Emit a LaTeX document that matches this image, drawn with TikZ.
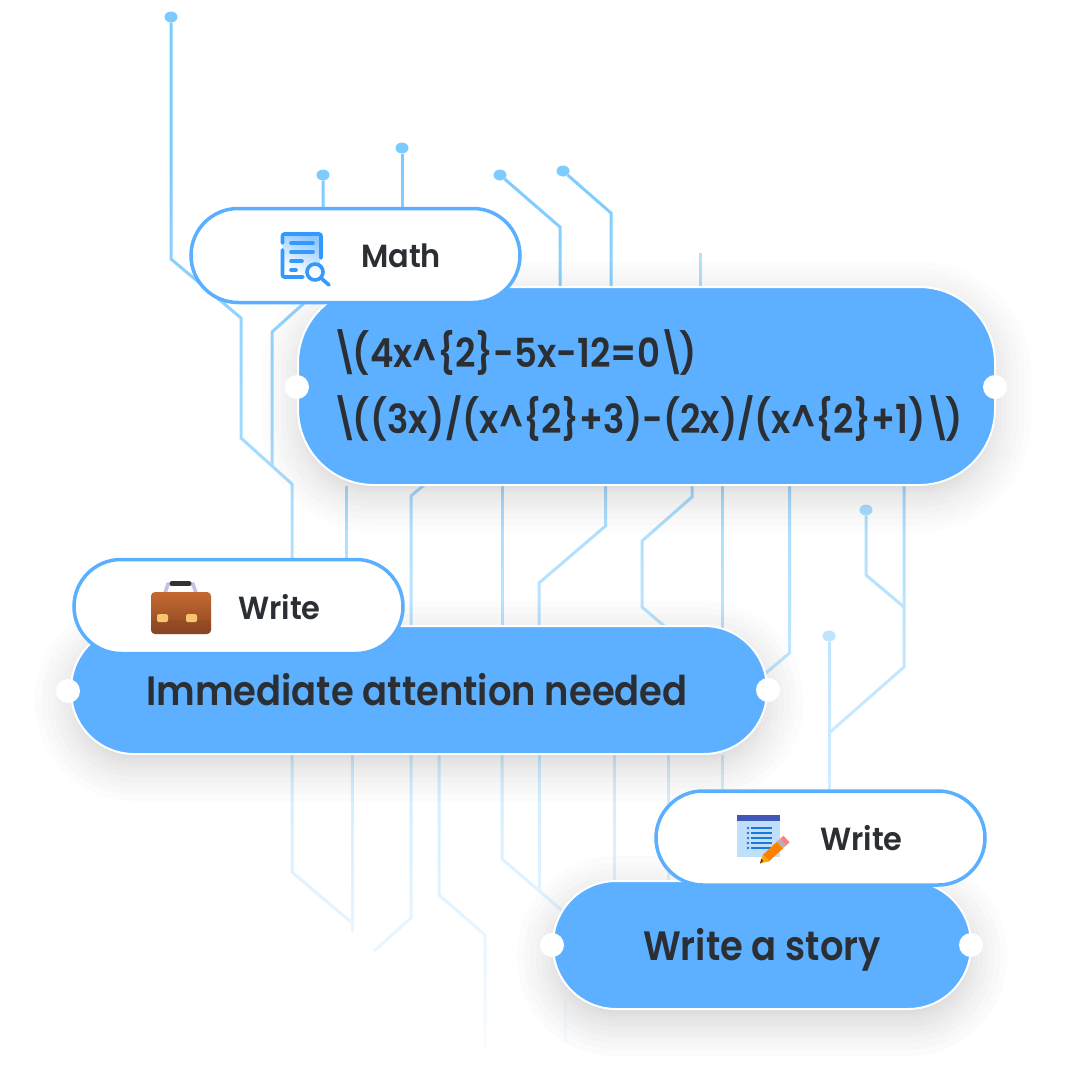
\documentclass[tikz,border=0pt]{standalone}
\usepackage{fontspec}
\setmainfont{Poppins}[UprightFont=* SemiBold]
\newfontfamily\bodyface{Poppins}[UprightFont=* SemiBold,FakeStretch=.9]
\newfontfamily\mathface{Poppins}[UprightFont=* SemiBold,FakeStretch=.89]
\newfontfamily\tagface{Poppins}[UprightFont=* SemiBold,FakeStretch=.95]
\usetikzlibrary{positioning,shapes.geometric}
\pgfdeclarelayer{tracelayer}
\pgfdeclarelayer{shadelayer}
\pgfsetlayers{tracelayer,shadelayer,main}
\definecolor{traceblue}{HTML}{7CCBFF}
\definecolor{pillblue}{HTML}{5CB0FF}
\definecolor{pilledge}{HTML}{5AB0FF}
\definecolor{inktext}{HTML}{2B2F33}
\definecolor{iconblue}{HTML}{3399FF}
\definecolor{casetop}{HTML}{C46A30}
\definecolor{casebot}{HTML}{8A4524}
\definecolor{clasp}{HTML}{F9C46F}
\definecolor{padblue}{HTML}{BFDFFA}
\definecolor{padhead}{HTML}{4257B8}
\definecolor{padline}{HTML}{1E78D8}
\newcommand{\bs}{\kern-.05em\textbackslash\kern-.13em}
\newcommand{\up}{\textasciicircum}
% soft shadow under a blue pill: x1,y1,x2,y2,radius
\newcommand{\softshadow}[5]{\foreach \i [evaluate=\i as \sp using {\i*\i*.28-11}] in {1,2,...,13}
  \fill[black,opacity=.01,rounded corners=#5+\sp] (#1-\sp,#2-\sp+11) rectangle (#3+\sp,#4+\sp+11);}

\begin{document}
\begin{tikzpicture}[x=1pt,y=-1pt,
trace/.style={draw=traceblue,line width=3pt},
tipdot/.style={ellipse,fill=traceblue,minimum width=13pt,minimum height=11pt,inner sep=0pt},
bluepill/.style={draw=white,line width=2pt,fill=pillblue,inner sep=0pt},
whitepill/.style={draw=pilledge,line width=3.5pt,fill=white,inner sep=0pt,minimum width=329pt,minimum height=94pt,rounded corners=47pt},
grip/.style={circle,fill=white,minimum size=24pt,inner sep=0pt},
tag/.style={text=inktext,inner sep=0pt,font=\tagface\fontsize{32}{34}\selectfont},
body/.style={text=inktext,inner sep=0pt,font=\bodyface\fontsize{41}{44}\selectfont},
eqn/.style={text=inktext,inner sep=0pt,anchor=base west,font=\mathface\fontsize{40}{44}\selectfont},
iconline/.style={draw=iconblue,line width=3.6pt,line cap=round}]

\useasboundingbox (0,0) rectangle (1080,1080);

% pills
\node[bluepill,minimum width=697pt,minimum height=198pt,rounded corners=76pt] (mathbody) at (646.5,386) {};
\node[whitepill] (mathpill) at (355.5,255.5) {};
\node[bluepill,minimum width=696pt,minimum height=128pt,rounded corners=63pt] (writebody) at (419,690) {};
\node[whitepill] (writepill) at (238.5,606.5) {};
\node[bluepill,minimum width=418pt,minimum height=128pt,rounded corners=63pt] (storybody) at (762,945) {};
\node[whitepill] (storypill) at (820.5,838) {};

\foreach \nm/\x/\y in {gripa/297/387,gripb/995/387,gripc/68/691,gripd/768/690,gripe/552/945,gripf/971/945}
  \node[grip] (\nm) at (\x,\y) {};

% texts
\node[tag,anchor=base west] (mathtag) at (361,267) {Math};
\node[tag,anchor=base west] (writetag) at (238,619) {Write};
\node[tag,anchor=base west] (storytag) at (820,850) {Write};
\node[eqn] (lineone) at (333,367) {\bs(4x\up\{2\}-5x-12=0\bs)};
\node[eqn] (linetwo) at (333,433) {\bs((3x)/(x\up\{2\}+3)-(2x)/(x\up\{2\}+1)\bs)};
\node[body,anchor=base] (needtext) at (417,705) {Immediate attention needed};
\node[body,anchor=base] (storytext) at (762,960) {Write a story};

% math icon
\shade[top color=iconblue!55,bottom color=white,shading angle=-25] (283,235) rectangle (320,275);
\draw[iconline,rounded corners=2pt] (282.5,250) -- (282.5,277) -- (303,277);
\draw[iconline,rounded corners=2pt] (282.5,243) -- (282.5,234) -- (321,234) -- (321,258);
\foreach \yy/\xx in {243/313,252/313,261/302,270/296}
  \draw[iconline] (291,\yy) -- (\xx,\yy);
\draw[iconline,fill=white,fill opacity=.75] (315,272) circle (8pt);
\draw[iconline] (321,278) -- (329,285);

% case icon
\draw[line width=3.5pt,draw=cyan!25!blue!25] (165,593) -- (168,584) -- (193,584) -- (196,593);
\draw[line width=5pt,draw=black!80,line cap=round] (172,583.5) -- (189,583.5);
\shade[rounded corners=4pt,top color=casetop,bottom color=casebot] (151,592) rectangle (211,634);
\fill[fill=casebot,opacity=.35,rounded corners=4pt] (151,620) rectangle (211,634);
\foreach \xx in {157,186}
  \fill[rounded corners=1.5pt,fill=clasp] (\xx,614) rectangle (\xx+11,622);

% note icon
\fill[fill=padblue] (737,815) rectangle (780,857);
\fill[fill=padhead] (737,815) rectangle (780,821);
\foreach \yy in {828,833,838,843,848} {
  \fill[fill=padline] (748,\yy) circle (1.4pt);
  \draw[line width=2pt,draw=padline] (751,\yy) -- (771.5,\yy);
}
\draw[line width=9pt,draw=orange] (766,858) -- (780,845);
\draw[line width=9pt,draw=black!30] (780,845) -- (783,842.2);
\draw[line width=9pt,draw=red!50] (783,842.2) -- (786.5,839);
\fill[fill=orange!70!yellow] (769.1,861.3) -- (762.9,854.7) -- (760,863.5) -- cycle;
\fill[fill=black!80] (763,861) -- (760,863.5) -- (761.5,858.5) -- cycle;

% traces
\begin{pgfonlayer}{tracelayer}
\foreach \nm/\x/\y in {tipa/171/17,tipb/323/175,tipc/402/148,tipd/500/175,tipe/563/171,tipf/866/510,tipg/829/636}
  \node[tipdot] (\nm) at (\x,\y) {};
\draw[trace] (tipa) -- (171,259) -- (241,318) -- (241,438) -- (292,484) -- (292,560);
\draw[trace] (tipb) -- (323,286) -- (272,332) -- (272,465);
\draw[trace] (tipc) -- (402,230);
\draw[trace] (tipd) -- (560,227) -- (560,300);
\draw[trace] (tipe) -- (611,213) -- (611,300);
\draw[trace,draw=traceblue!65] (700,253) -- (700,300);
\draw[trace] (tipf) -- (866,575) -- (904,607);
\draw[trace] (tipg) -- (829,800);
% below the math pill
\foreach \x in {346,502,722}
  \draw[trace] (\x,0 |- mathbody.south) -- (\x,640);
\draw[trace] (424,485) -- (411,496) -- (411,640);
\draw[trace] (605.5,480) -- (605.5,526) -- (539,583) -- (539,640);
\draw[trace] (692,480) -- (692,497) -- (642,541) -- (642,607) -- (670,631);
\draw[trace] (789.5,480) -- (789.5,653) -- (760,678);
\draw[trace] (904,480) -- (904,667) -- (829,733);
% below the write pill
\foreach \x in {614,668,722}
  \draw[trace] (\x,0 |- writebody.south) -- (\x,885);
\draw[trace] (292,750) -- (292,872) -- (352,923);
\draw[trace] (352,750) -- (352,932);
\draw[trace] (411,750) -- (411,918) -- (374,951);
\draw[trace] (439,750) -- (439,895) -- (485,935) -- (485,1048);
\draw[trace] (502,750) -- (502,859) -- (565,913);
\draw[trace] (539,750) -- (539,890);
\draw[trace] (565,1000) -- (565,1043);
% traces fade out downwards
\foreach \yy [evaluate=\yy as \fadeval using {(\yy-150)/950}] in {150,160,...,1060}
  \fill[white,opacity=\fadeval] (0,\yy) rectangle (1080,\yy+10);
\end{pgfonlayer}

% shadows
\begin{pgfonlayer}{shadelayer}
\softshadow{298}{287}{995}{485}{76}
\softshadow{71}{626}{767}{754}{63}
\softshadow{553}{881}{971}{1009}{63}
\end{pgfonlayer}
\end{tikzpicture}
\end{document}
